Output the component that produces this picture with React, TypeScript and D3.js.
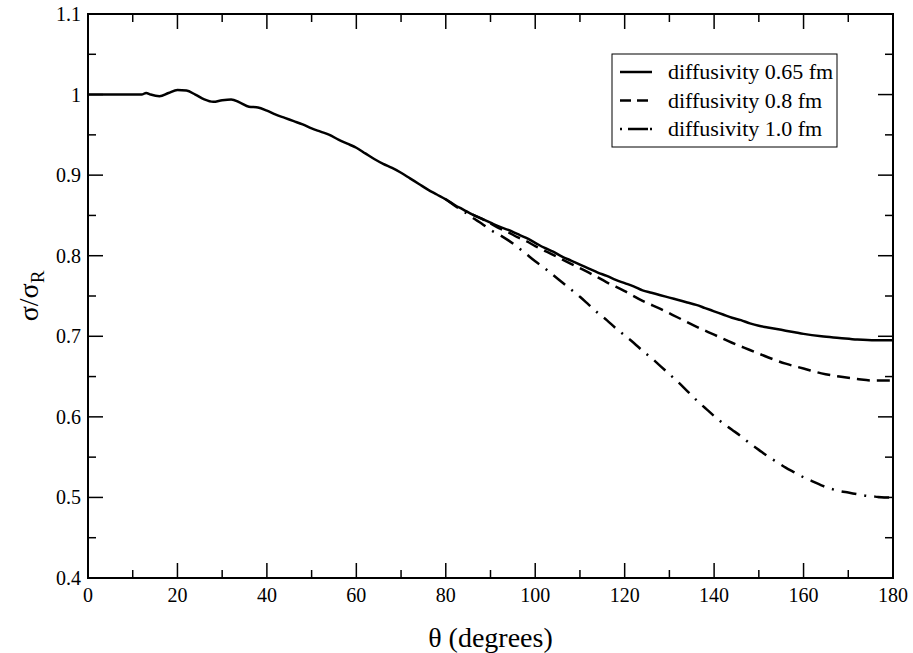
import React from 'react';
import * as d3 from 'd3';

// angle grid (degrees) and sigma/sigma_R for each diffusivity
const thetaSolid = [0, 5, 10, 12, 13, 14, 16, 18, 20, 22, 24, 26, 28, 30, 32, 34, 36, 38, 40, 42, 44, 46, 48, 50, 52, 54, 56, 58, 60, 62, 64, 66, 68, 70, 72, 74, 76, 78, 80, 82, 84, 86, 88, 90, 92, 94, 96, 98, 100, 102, 104, 106, 108, 110, 112, 114, 116, 118, 120, 122, 124, 126, 128, 130, 132, 134, 136, 138, 140, 142, 144, 146, 148, 150, 152, 154, 156, 158, 160, 164, 168, 172, 176, 180];
const sigma065 = [1.0, 1.0, 1.0, 1.0, 1.002, 1.0, 0.998, 1.002, 1.0057, 1.005, 1.0, 0.994, 0.991, 0.993, 0.994, 0.99, 0.985, 0.984, 0.98, 0.975, 0.971, 0.967, 0.963, 0.958, 0.954, 0.95, 0.944, 0.939, 0.934, 0.927, 0.92, 0.914, 0.909, 0.903, 0.896, 0.889, 0.882, 0.876, 0.87, 0.863, 0.857, 0.851, 0.846, 0.841, 0.836, 0.832, 0.827, 0.822, 0.816, 0.81, 0.805, 0.799, 0.794, 0.789, 0.784, 0.779, 0.775, 0.77, 0.766, 0.762, 0.757, 0.754, 0.751, 0.748, 0.745, 0.742, 0.739, 0.735, 0.731, 0.727, 0.723, 0.72, 0.716, 0.713, 0.711, 0.709, 0.707, 0.705, 0.703, 0.7, 0.698, 0.696, 0.695, 0.695];

const thetaDash = [86, 88, 90, 92, 94, 96, 98, 100, 104, 108, 112, 116, 120, 124, 128, 132, 136, 140, 144, 148, 152, 156, 160, 164, 168, 172, 176, 180];
const sigma08 = [0.851, 0.846, 0.840, 0.834, 0.829, 0.823, 0.818, 0.812, 0.801, 0.790, 0.779, 0.767, 0.756, 0.744, 0.734, 0.723, 0.712, 0.702, 0.692, 0.683, 0.674, 0.666, 0.660, 0.654, 0.650, 0.647, 0.645, 0.645];

const thetaDashDot = [80, 82, 84, 86, 88, 90, 92, 94, 96, 98, 100, 102, 104, 106, 108, 110, 112, 114, 116, 118, 120, 122, 124, 126, 128, 130, 132, 134, 136, 138, 140, 142, 144, 146, 148, 150, 152, 154, 156, 158, 160, 162, 164, 166, 168, 170, 172, 174, 176, 178, 180];
const sigma10 = [0.870, 0.862, 0.855, 0.847, 0.840, 0.832, 0.826, 0.819, 0.811, 0.802, 0.793, 0.785, 0.776, 0.767, 0.758, 0.749, 0.739, 0.729, 0.720, 0.710, 0.701, 0.692, 0.682, 0.673, 0.663, 0.653, 0.643, 0.632, 0.621, 0.611, 0.601, 0.592, 0.584, 0.576, 0.567, 0.559, 0.551, 0.544, 0.537, 0.531, 0.525, 0.520, 0.515, 0.511, 0.508, 0.506, 0.504, 0.502, 0.501, 0.500, 0.500];

const xTicks = [0, 20, 40, 60, 80, 100, 120, 140, 160, 180];
const yTicks = [0.4, 0.5, 0.6, 0.7, 0.8, 0.9, 1, 1.1];
const legendLabels = ['diffusivity 0.65 fm', 'diffusivity 0.8 fm', 'diffusivity 1.0 fm'];

const W = 913;
const H = 653;
const left = 88, right = 893, top = 14, bottom = 578;
const serif = { fontFamily: 'Liberation Serif' };

export default function App() {
  const x = d3.scaleLinear().domain([0, 180]).range([left, right]);
  const y = d3.scaleLinear().domain([0.4, 1.1]).range([bottom, top]);

  const line = d3.line<[number, number]>()
    .x(d => x(d[0]))
    .y(d => y(d[1]))
    .curve(d3.curveMonotoneX);

  const series = [
    { pts: thetaSolid.map((t, i) => [t, sigma065[i]] as [number, number]), dash: undefined, key: undefined },
    { pts: thetaDash.map((t, i) => [t, sigma08[i]] as [number, number]), dash: '13,7', key: '11,6' },
    { pts: thetaDashDot.map((t, i) => [t, sigma10[i]] as [number, number]), dash: '15,8,2,8', key: '2,6,20' },
  ];

  const xMinor = d3.range(10, 180, 20);
  const yMinor = d3.range(0.45, 1.1, 0.1);

  return (
    <svg width={W} height={H} style={{ position: 'absolute', left: 0, top: 0, background: '#fff' }}>
      <rect x={0} y={0} width={W} height={H} fill="#fff" />

      {/* curves */}
      {series.map((s, i) => (
        <path key={i} d={line(s.pts) || ''} fill="none" stroke="#000" strokeWidth={2.5}
          strokeDasharray={s.dash} />
      ))}

      {/* ticks, all four sides, pointing in */}
      <g stroke="#000" strokeWidth={1.5}>
        {xTicks.slice(1, -1).map(t => (
          <g key={'xt' + t}>
            <line x1={x(t)} x2={x(t)} y1={bottom} y2={bottom - 15} />
            <line x1={x(t)} x2={x(t)} y1={top} y2={top + 15} />
          </g>
        ))}
        {xMinor.map(t => (
          <g key={'xm' + t}>
            <line x1={x(t)} x2={x(t)} y1={bottom} y2={bottom - 8} />
            <line x1={x(t)} x2={x(t)} y1={top} y2={top + 8} />
          </g>
        ))}
        {yTicks.slice(1, -1).map(t => (
          <g key={'yt' + t}>
            <line x1={left} x2={left + 15} y1={y(t)} y2={y(t)} />
            <line x1={right} x2={right - 15} y1={y(t)} y2={y(t)} />
          </g>
        ))}
        {yMinor.map(t => (
          <g key={'ym' + t}>
            <line x1={left} x2={left + 8} y1={y(t)} y2={y(t)} />
            <line x1={right} x2={right - 8} y1={y(t)} y2={y(t)} />
          </g>
        ))}
      </g>

      <rect x={left} y={top} width={right - left} height={bottom - top} fill="none" stroke="#000" strokeWidth={2} />

      {/* tick labels */}
      <g style={serif} fontSize={20} fill="#000">
        {xTicks.map(t => (
          <text key={'xl' + t} x={x(t)} y={bottom + 24} textAnchor="middle">{t}</text>
        ))}
        {yTicks.map(t => (
          <text key={'yl' + t} x={left - 7} y={y(t) + 7} textAnchor="end">{t}</text>
        ))}
      </g>

      {/* axis titles */}
      <text x={(left + right) / 2} y={647} textAnchor="middle" style={serif} fontSize={28}>θ (degrees)</text>
      <text transform={`translate(38, ${(top + bottom) / 2}) rotate(-90)`} textAnchor="middle" style={serif} fontSize={28}>
        σ/σ<tspan fontSize={19} dy={6}>R</tspan>
      </text>

      {/* legend */}
      <rect x={612} y={54} width={225} height={93} fill="#fff" stroke="#000" strokeWidth={1} />
      {legendLabels.map((lab, i) => {
        const ly = 72 + i * 28.5;
        return (
          <g key={lab}>
            <line x1={620} x2={652} y1={ly} y2={ly} stroke="#000" strokeWidth={2.5}
              strokeDasharray={series[i].key} />
            <text x={668} y={ly + 7} style={serif} fontSize={22}>{lab}</text>
          </g>
        );
      })}
    </svg>
  );
}
